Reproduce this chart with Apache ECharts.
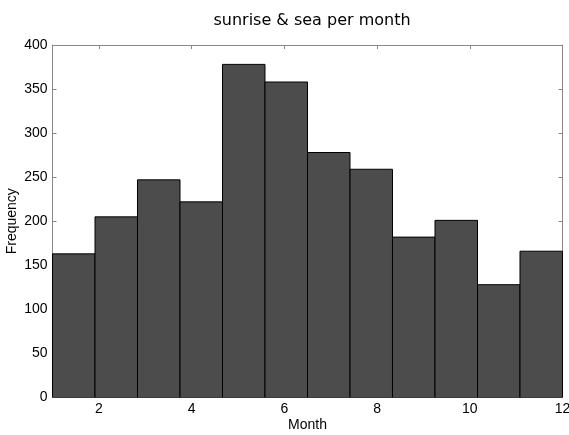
<!DOCTYPE html>
<html>
<head>
<meta charset="utf-8">
<script src="https://cdn.jsdelivr.net/npm/echarts@6/dist/echarts.min.js"></script>
<style>
html,body{margin:0;padding:0;background:#fff;}
#chart{width:569px;height:435px;}
</style>
</head>
<body>
<div id="chart"></div>
<script>
var titleText = 'sunrise & sea per month';
var xLabel = 'Month';
var yLabel = 'Frequency';
var binEdges = [1, 1.9167, 2.8333, 3.75, 4.6667, 5.5833, 6.5, 7.4167, 8.3333, 9.25, 10.1667, 11.0833, 12];
var frequencies = [163, 205, 247, 222, 378, 358, 278, 259, 182, 201, 128, 166];
var xTicks = [2, 4, 6, 8, 10, 12];
var yTicks = [0, 50, 100, 150, 200, 250, 300, 350, 400];

var histData = frequencies.map(function (v, i) { return [binEdges[i], binEdges[i + 1], v]; });

var chart = echarts.init(document.getElementById('chart'), null, {renderer: 'canvas'});
var axisCol = '#888888';
var labelFont = {fontFamily: 'Liberation Sans', fontSize: 14, color: '#000'};

function xAxisDef(pos, showLabels) {
  return {
    type: 'value', min: 1, max: 12, position: pos, gridIndex: 0,
    name: showLabels ? xLabel : '', nameLocation: 'middle', nameGap: 21, nameMoveOverlap: false,
    nameTextStyle: labelFont,
    axisLine: {show: true, onZero: false, lineStyle: {color: axisCol, width: 1}},
    axisTick: {show: true, inside: true, length: 4, customValues: xTicks, lineStyle: {color: axisCol}},
    axisLabel: Object.assign({show: showLabels, margin: 5, customValues: xTicks}, labelFont),
    splitLine: {show: false}
  };
}
function yAxisDef(pos, showLabels) {
  return {
    type: 'value', min: 0, max: 400, position: pos, gridIndex: 0,
    name: showLabels ? yLabel : '', nameLocation: 'middle', nameGap: 33, nameRotate: 90, nameMoveOverlap: false,
    nameTextStyle: labelFont,
    axisLine: {show: true, onZero: false, lineStyle: {color: axisCol, width: 1}},
    axisTick: {show: true, inside: true, length: 4, customValues: yTicks, lineStyle: {color: axisCol}},
    axisLabel: Object.assign({show: showLabels, margin: 5, customValues: yTicks}, labelFont),
    splitLine: {show: false}
  };
}

chart.setOption({
  animation: false,
  backgroundColor: '#fff',
  title: {
    text: titleText,
    left: 307, top: 8, textAlign: 'center',
    textStyle: {fontFamily: 'DejaVu Sans', fontSize: 16, fontWeight: 'normal', color: '#000'}
  },
  grid: {left: 52.5, right: 6.5, top: 45, bottom: 37.5, containLabel: false, outerBoundsMode: 'none'},
  xAxis: [xAxisDef('bottom', true), xAxisDef('top', false)],
  yAxis: [yAxisDef('left', true), yAxisDef('right', false)],
  series: [{
    type: 'custom',
    xAxisIndex: 0, yAxisIndex: 0,
    clip: true,
    encode: {x: [0, 1], y: 2},
    data: histData,
    renderItem: function (params, api) {
      var p0 = api.coord([api.value(0), api.value(2)]);
      var p1 = api.coord([api.value(1), 0]);
      return {
        type: 'rect',
        shape: {x: p0[0], y: p0[1], width: p1[0] - p0[0], height: p1[1] - p0[1]},
        style: {fill: '#4c4c4c', stroke: '#000', lineWidth: 1}
      };
    }
  }]
});
</script>
</body>
</html>
